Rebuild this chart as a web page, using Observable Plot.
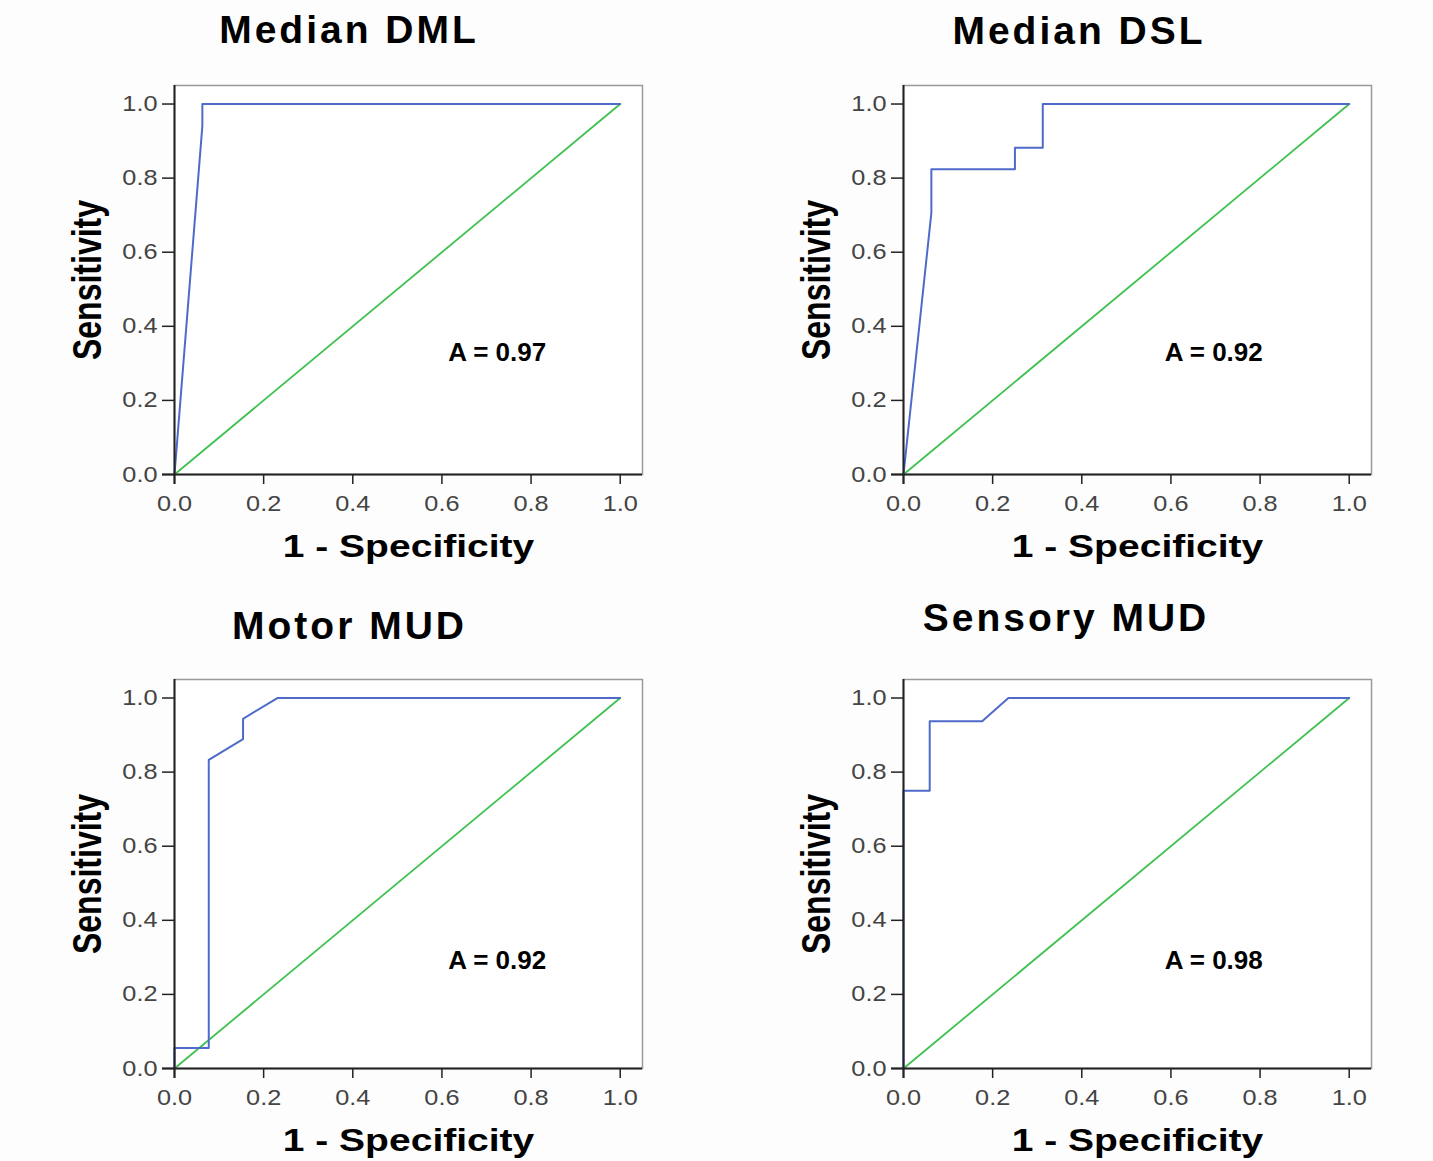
<!DOCTYPE html>
<html>
<head>
<meta charset="utf-8">
<script src="https://cdn.jsdelivr.net/npm/d3@7"></script>
<script src="https://cdn.jsdelivr.net/npm/@observablehq/plot@0.6"></script>
<style>
  html, body { margin: 0; padding: 0; background: #fdfdfd; }
  #root { position: relative; width: 1433px; height: 1161px; overflow: hidden; font-family: "Liberation Sans", Arial, sans-serif; }
  .panel { position: absolute; width: 704px; height: 594px; }
  .title { position: absolute; font-weight: bold; font-size: 39px; line-height: 39px; letter-spacing: 3px; text-align: center; color: #000; white-space: nowrap; }
  .panel svg { position: absolute; left: 0; top: 0; }
</style>
</head>
<body>
<div id="root"></div>
<script>
// ---- data ----
const titles = ["Median DML", "Median DSL", "Motor MUD", "Sensory MUD"];
const aucLabels = ["A = 0.97", "A = 0.92", "A = 0.92", "A = 0.98"];
// ROC curve points (1 - specificity, sensitivity)
const rocX = [
  [0, 0.0625, 0.0625, 1],
  [0, 0.0625, 0.0625, 0.25, 0.25, 0.3125, 0.3125, 1],
  [0, 0, 0.0769, 0.0769, 0.1538, 0.1538, 0.2308, 1],
  [0, 0, 0.0588, 0.0588, 0.1765, 0.2353, 1]
];
const rocY = [
  [0, 0.941, 1, 1],
  [0, 0.706, 0.824, 0.824, 0.882, 0.882, 1, 1],
  [0, 0.0556, 0.0556, 0.833, 0.889, 0.944, 1, 1],
  [0, 0.75, 0.75, 0.9375, 0.9375, 1, 1]
];
const refX = [0, 1];
const refY = [0, 1];
const tickValues = [0, 0.2, 0.4, 0.6, 0.8, 1.0];
const xLabel = "1 - Specificity";
const yLabel = "Sensitivity";

// ---- layout (not data) ----
const panelOffsets = [[0, 0], [729, 0], [0, 594], [729, 594]];
const titleCenters = [349, 350, 349.5, 337];
const titleTops = [10, 11, 12, 4];
const annotPos = [[0.614, 0.33], [0.586, 0.33], [0.614, 0.292], [0.586, 0.292]];

const root = document.getElementById("root");

// stretch a text element around its own anchor point
function stretch(el, sx, sy) {
  const t = el.getAttribute("transform") || "";
  const x = parseFloat(el.getAttribute("x")) || 0;
  const y = parseFloat(el.getAttribute("y")) || 0;
  el.setAttribute("transform", `${t} translate(${x},${y}) scale(${sx},${sy}) translate(${-x},${-y})`.trim());
}

titles.forEach((t, i) => {
  const panel = document.createElement("div");
  panel.className = "panel";
  panel.style.left = panelOffsets[i][0] + "px";
  panel.style.top = panelOffsets[i][1] + "px";

  const roc = rocX[i].map((x, k) => ({x, y: rocY[i][k]}));
  const ref = refX.map((x, k) => ({x, y: refY[k]}));
  const annot = [{x: annotPos[i][0], y: annotPos[i][1], label: aucLabels[i]}];

  const svg = Plot.plot({
    width: 704,
    height: 594,
    marginLeft: 174,
    marginRight: 62,
    marginTop: 85,
    marginBottom: 120,
    style: {background: "transparent", fontFamily: "'Liberation Sans', Arial, sans-serif", overflow: "visible"},
    x: {domain: [0, 1.05], label: null},
    y: {domain: [0, 1.05], label: null},
    marks: [
      Plot.rect([0], {x1: 0, x2: 1.05, y1: 0, y2: 1.05, fill: "#ffffff"}),
      Plot.frame({stroke: "#9a9a9a", strokeWidth: 1.5}),
      Plot.line(ref, {x: "x", y: "y", stroke: "#3fc151", strokeWidth: 1.8}),
      Plot.line(roc, {x: "x", y: "y", stroke: "#4f6bc9", strokeWidth: 2}),
      Plot.text(annot, {x: "x", y: "y", text: "label", textAnchor: "start", fontSize: 26, fontWeight: "bold", fill: "#000"}),
      Plot.ruleX([0], {stroke: "#222", strokeWidth: 2, insetBottom: -10}),
      Plot.ruleY([0], {stroke: "#222", strokeWidth: 2, insetLeft: -12}),
      Plot.axisX({ticks: tickValues, tickFormat: d3.format(".1f"), tickSize: 10, tickPadding: 11, fontSize: 22, stroke: "#222", fill: "#444", strokeWidth: 1.5, label: null}),
      Plot.axisY({ticks: tickValues, tickFormat: d3.format(".1f"), tickSize: 12, tickPadding: 5, fontSize: 22, stroke: "#222", fill: "#444", strokeWidth: 1.5, label: null}),
      Plot.text([yLabel], {frameAnchor: "left", dx: -86, rotate: -90, textAnchor: "middle", lineAnchor: "middle", fontSize: 32, fontWeight: "bold", fill: "#000"}),
      Plot.text([xLabel], {frameAnchor: "bottom", dy: 72, textAnchor: "middle", lineAnchor: "middle", fontSize: 32, fontWeight: "bold", fill: "#000"})
    ]
  });
  svg.querySelectorAll("text").forEach(el => {
    const s = el.textContent.trim();
    if (s === xLabel) stretch(el, 1.22, 1);
    else if (s === yLabel) stretch(el, 1, 1.25);
    else if (/^\d\.\d$/.test(s)) stretch(el, 1.15, 1);
  });
  panel.appendChild(svg);

  const title = document.createElement("div");
  title.className = "title";
  title.textContent = t;
  title.style.width = "600px";
  title.style.left = (titleCenters[i] - 300) + "px";
  title.style.top = titleTops[i] + "px";
  panel.appendChild(title);

  root.appendChild(panel);
});
</script>
</body>
</html>
